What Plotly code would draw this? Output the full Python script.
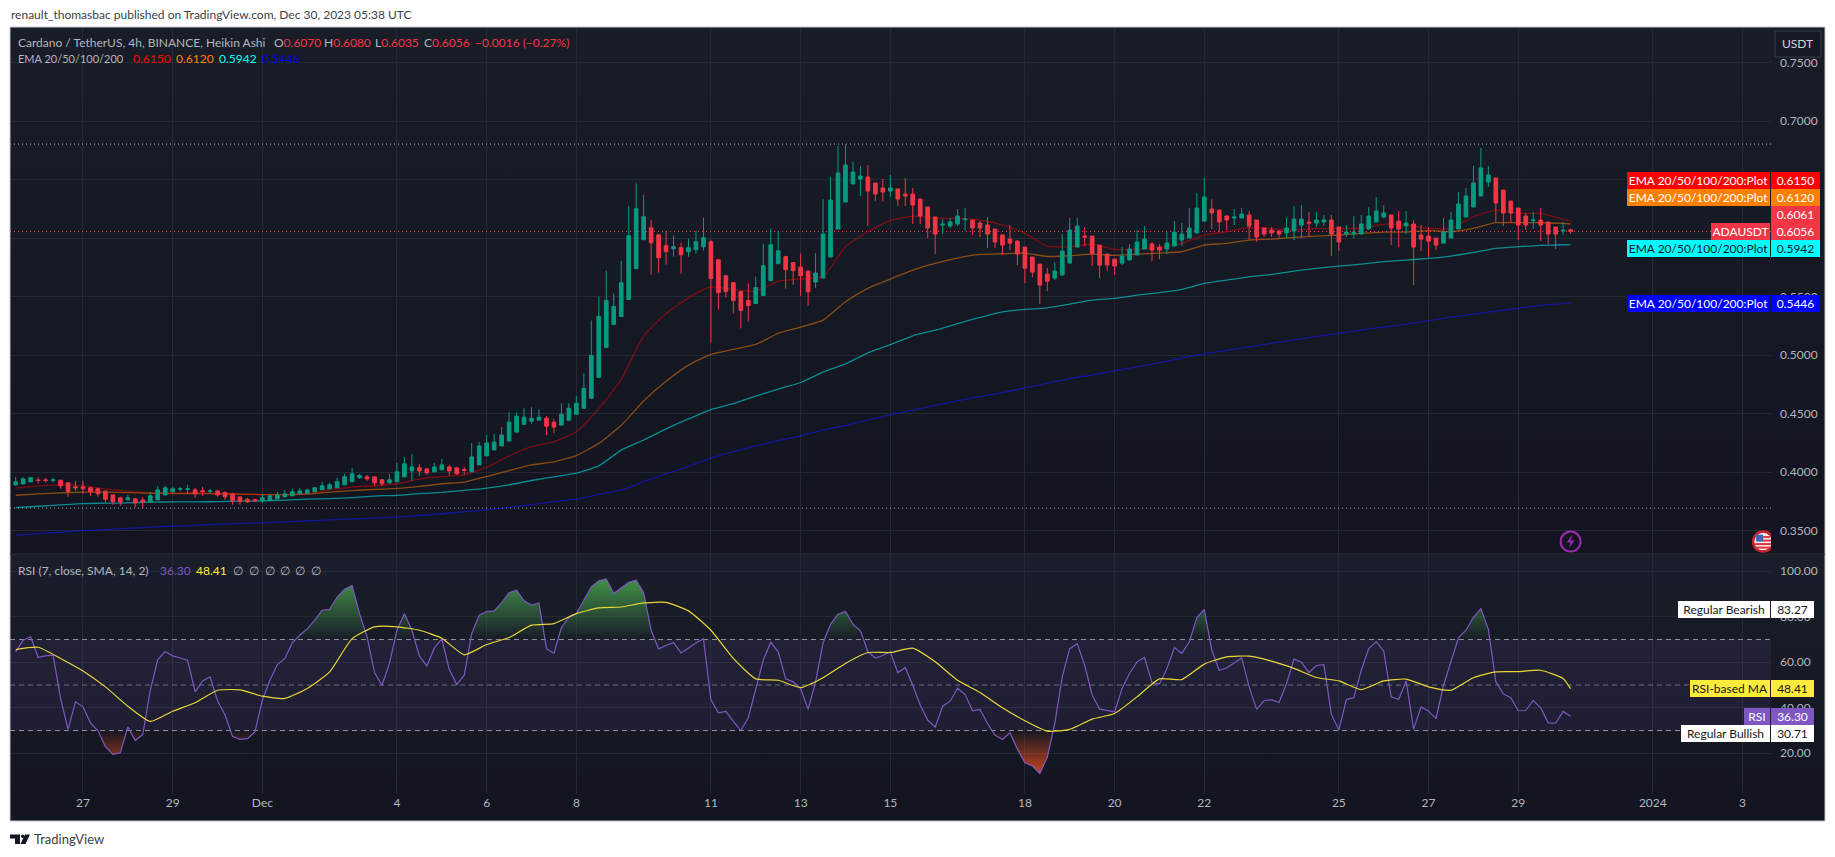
import urllib.parse

import pandas as pd
import plotly.graph_objects as go

# =========================
# Data
# =========================
bar_open = [
    .3892, .3900, .3917, .3934, .3934, .3929, .3932, .3909, .3875, .3875,
    .3866, .3858, .3838, .3806, .3781, .3763, .3772, .3763, .3746, .3763,
    .3806, .3832, .3855, .3852, .3849, .3843, .3835, .3840, .3826, .3815,
    .3789, .3769, .3766, .3755, .3763, .3772, .3789, .3798, .3815, .3820,
    .3833, .3850, .3858, .3867, .3892, .3918, .3955, .3960, .3960, .3935,
    .3909, .3918, .3960, .4011, .4037, .4028, .4003, .4020, .4045, .4037,
    .4023, .4003, .4062, .4139, .4190, .4224, .4266, .4342, .4410, .4436,
    .4444, .4461, .4427, .4402, .4444, .4495, .4546, .4631, .4810, .5066,
    .5262, .5330, .5475, .5739, .5986, .6088, .6028, .5935, .5909, .5918,
    .5884, .5901, .5926, .5969, .5815, .5679, .5619, .5543, .5466, .5441,
    .5509, .5636, .5781, .5841, .5790, .5752, .5718, .5624, .5658, .5838,
    .6077, .6308, .6462, .6504, .6522, .6470, .6428, .6402, .6419, .6376,
    .6376, .6333, .6265, .6180, .6111, .6103, .6120, .6157, .6154, .6128,
    .6111, .6077, .6026, .5991, .5974, .5923, .5838, .5778, .5692, .5658,
    .5684, .5786, .5923, .6017, .6017, .5940, .5863, .5820, .5786, .5812,
    .5855, .5906, .5949, .5923, .5906, .5932, .5983, .6000, .6043, .6145,
    .6248, .6239, .6188, .6171, .6171, .6197, .6154, .6086, .6068, .6060,
    .6043, .6060, .6111, .6137, .6128, .6137, .6154, .6094, .6034, .6034,
    .6034, .6077, .6137, .6180, .6197, .6145, .6103, .6120, .6026, .6017,
    .6000, .5957, .6000, .6077, .6180, .6265, .6359, .6479, .6513, .6410,
    .6316, .6256, .6188, .6148, .6154, .6137, .6094, .6060, .6070,
]
bar_high = [
    .3960, .3957, .3960, .3957, .3952, .3952, .3932, .3909, .3926, .3926,
    .3875, .3866, .3838, .3806, .3789, .3806, .3781, .3789, .3832, .3883,
    .3883, .3875, .3875, .3892, .3866, .3875, .3858, .3840, .3835, .3823,
    .3789, .3781, .3772, .3815, .3815, .3832, .3849, .3858, .3863, .3860,
    .3875, .3918, .3909, .3952, .3986, .4037, .3986, .3977, .3960, .3935,
    .3986, .4079, .4130, .4156, .4071, .4037, .4079, .4113, .4062, .4037,
    .4045, .4249, .4258, .4317, .4325, .4385, .4512, .4512, .4546, .4555,
    .4538, .4478, .4453, .4589, .4589, .4648, .4844, .5296, .5500, .5722,
    .5526, .5807, .6275, .6471, .6369, .6156, .6028, .6062, .6020, .5960,
    .5994, .6062, .6173, .5986, .5815, .5679, .5619, .5543, .5611, .5671,
    .5952, .6080, .6062, .5849, .5790, .5869, .5718, .5872, .6333, .6522,
    .6787, .6800, .6650, .6616, .6624, .6470, .6504, .6539, .6419, .6513,
    .6428, .6333, .6265, .6180, .6162, .6171, .6248, .6256, .6154, .6145,
    .6180, .6077, .6026, .6111, .5983, .5923, .5838, .5778, .5744, .5795,
    .6034, .6171, .6171, .6094, .6017, .5940, .5863, .5820, .5923, .5949,
    .6068, .6103, .5966, .5949, .6051, .6145, .6128, .6256, .6385, .6513,
    .6333, .6239, .6197, .6248, .6256, .6231, .6154, .6086, .6094, .6068,
    .6171, .6274, .6282, .6222, .6222, .6197, .6197, .6094, .6111, .6188,
    .6197, .6265, .6351, .6282, .6197, .6231, .6231, .6154, .6111, .6094,
    .6000, .6171, .6222, .6393, .6428, .6616, .6770, .6616, .6513, .6410,
    .6316, .6256, .6214, .6222, .6256, .6137, .6094, .6137, .6080,
]
bar_low = [
    .3883, .3900, .3917, .3903, .3912, .3912, .3858, .3789, .3840, .3815,
    .3798, .3789, .3744, .3721, .3712, .3763, .3701, .3695, .3746, .3763,
    .3806, .3832, .3838, .3815, .3781, .3798, .3815, .3789, .3763, .3721,
    .3721, .3738, .3746, .3738, .3763, .3772, .3789, .3798, .3815, .3820,
    .3833, .3850, .3858, .3867, .3892, .3918, .3943, .3926, .3884, .3884,
    .3901, .3918, .3960, .3926, .3969, .3977, .4003, .4020, .3969, .3977,
    .3977, .4003, .4062, .4139, .4190, .4224, .4266, .4342, .4402, .4410,
    .4444, .4317, .4334, .4402, .4444, .4495, .4546, .4631, .4810, .5066,
    .5262, .5330, .5475, .5739, .5986, .5688, .5705, .5773, .5841, .5696,
    .5841, .5867, .5892, .5108, .5389, .5492, .5355, .5228, .5287, .5441,
    .5509, .5636, .5781, .5568, .5602, .5507, .5421, .5573, .5658, .5838,
    .6077, .6308, .6462, .6359, .6103, .6316, .6308, .6350, .6274, .6274,
    .6120, .6120, .6000, .5863, .6034, .6086, .6103, .6060, .6026, .6009,
    .5915, .5915, .5855, .5897, .5769, .5615, .5667, .5436, .5547, .5641,
    .5684, .5786, .5923, .5932, .5761, .5658, .5718, .5684, .5769, .5812,
    .5855, .5906, .5803, .5820, .5863, .5932, .5932, .6000, .6043, .6145,
    .6077, .6051, .6068, .6111, .6171, .5983, .5966, .6009, .6009, .6000,
    .6000, .5983, .6000, .6009, .6094, .6103, .5846, .5889, .6009, .6000,
    .6034, .6077, .6137, .6171, .5940, .5923, .6034, .5598, .5889, .5838,
    .5897, .5957, .6000, .6077, .6180, .6265, .6359, .6436, .6137, .6103,
    .6137, .5983, .6068, .6077, .5974, .5949, .5906, .6026, .6035,
]
bar_close = [
    .3917, .3943, .3952, .3929, .3929, .3934, .3883, .3835, .3866, .3858,
    .3832, .3815, .3769, .3749, .3746, .3781, .3738, .3746, .3798, .3849,
    .3866, .3858, .3860, .3858, .3815, .3835, .3840, .3806, .3789, .3758,
    .3749, .3746, .3755, .3781, .3798, .3806, .3815, .3832, .3840, .3848,
    .3867, .3884, .3892, .3918, .3960, .3986, .3972, .3943, .3909, .3901,
    .3935, .4003, .4071, .4045, .4011, .3994, .4045, .4062, .4011, .3986,
    .4014, .4130, .4224, .4249, .4258, .4317, .4427, .4478, .4470, .4461,
    .4470, .4393, .4385, .4495, .4546, .4589, .4716, .4997, .5330, .5466,
    .5415, .5619, .6020, .6250, .6182, .5960, .5832, .5884, .5926, .5858,
    .5918, .5969, .6003, .5654, .5534, .5543, .5466, .5381, .5423, .5577,
    .5764, .5943, .5892, .5730, .5722, .5678, .5541, .5701, .6034, .6325,
    .6556, .6624, .6564, .6530, .6402, .6376, .6393, .6428, .6333, .6359,
    .6282, .6188, .6086, .6034, .6120, .6137, .6188, .6162, .6086, .6086,
    .6034, .5966, .5940, .5957, .5863, .5743, .5709, .5598, .5632, .5718,
    .5889, .6068, .6103, .6009, .5863, .5769, .5769, .5761, .5846, .5906,
    .5966, .5991, .5897, .5897, .5957, .6051, .6034, .6086, .6256, .6351,
    .6214, .6137, .6154, .6180, .6205, .6103, .6009, .6034, .6043, .6034,
    .6086, .6162, .6162, .6128, .6154, .6154, .6034, .5966, .6051, .6051,
    .6120, .6188, .6231, .6214, .6086, .6077, .6128, .5923, .5991, .5974,
    .5940, .6051, .6154, .6291, .6359, .6470, .6599, .6539, .6299, .6214,
    .6214, .6111, .6111, .6154, .6111, .6034, .6034, .6066, .6056,
]

# EMAs and the RSI average, one reading every 12 hours plus the last bar
ema_20 = [
    .3863, .3883, .3892, .3883, .3855, .3838, .3823, .3820, .3826, .3820,
    .3812, .3809, .3809, .3816, .3850, .3873, .3884, .3901, .3941, .3963,
    .3977, .4042, .4139, .4218, .4260, .4345, .4543, .4793, .5162, .5355,
    .5489, .5583, .5560, .5546, .5631, .5652, .5670, .5926, .6054, .6148,
    .6188, .6168, .6168, .6154, .6111, .6040, .5932, .5926, .5949, .5903,
    .5906, .5920, .5954, .6026, .6054, .6091, .6080, .6068, .6083, .6083,
    .6083, .6117, .6111, .6083, .6083, .6182, .6239, .6211, .6211, .6160,
    .6150,
]
ema_50 = [
    .3803, .3815, .3823, .3829, .3829, .3826, .3820, .3818, .3818, .3815,
    .3812, .3809, .3809, .3812, .3830, .3842, .3853, .3861, .3878, .3901,
    .3915, .3963, .4014, .4062, .4088, .4142, .4246, .4400, .4608, .4776,
    .4915, .5006, .5049, .5091, .5185, .5239, .5299, .5456, .5570, .5650,
    .5726, .5783, .5829, .5860, .5866, .5872, .5843, .5849, .5863, .5852,
    .5863, .5872, .5883, .5940, .5954, .5983, .5991, .6006, .6017, .6026,
    .6040, .6051, .6051, .6063, .6054, .6083, .6131, .6131, .6131, .6125,
    .6120,
]
ema_100 = [
    .3698, .3709, .3721, .3732, .3735, .3738, .3744, .3746, .3746, .3749,
    .3752, .3755, .3761, .3769, .3774, .3782, .3796, .3802, .3816, .3827,
    .3844, .3864, .3892, .3929, .3960, .3992, .4054, .4188, .4275, .4370,
    .4455, .4535, .4585, .4650, .4710, .4766, .4855, .4925, .5020, .5090,
    .5165, .5213, .5270, .5322, .5370, .5390, .5404, .5436, .5470, .5484,
    .5513, .5533, .5561, .5612, .5641, .5669, .5689, .5718, .5741, .5761,
    .5778, .5798, .5812, .5826, .5846, .5877, .5912, .5926, .5937, .5943,
    .5942,
]
ema_200 = [
    .3460, .3475, .3487, .3500, .3510, .3520, .3530, .3538, .3545, .3555,
    .3562, .3567, .3575, .3585, .3592, .3600, .3608, .3616, .3630, .3645,
    .3662, .3678, .3700, .3722, .3748, .3770, .3810, .3848, .3920, .3985,
    .4050, .4120, .4175, .4225, .4270, .4310, .4360, .4400, .4445, .4490,
    .4530, .4570, .4610, .4645, .4680, .4720, .4760, .4800, .4830, .4865,
    .4900, .4935, .4975, .5010, .5040, .5070, .5100, .5130, .5160, .5185,
    .5215, .5240, .5265, .5293, .5325, .5350, .5375, .5400, .5425, .5440,
    .5446,
]
rsi_ma = [
    65.6, 66.6, 61.7, 56.2, 49.2, 40.7, 34.0, 38.5, 42.2, 47.7,
    47.9, 45.1, 44.1, 48.5, 55.8, 70.4, 75.6, 75.6, 74.1, 70.6,
    63.3, 67.8, 70.9, 76.3, 77.0, 81.4, 83.9, 84.3, 86.1, 86.3,
    82.6, 74.1, 61.7, 52.7, 52.1, 48.9, 53.2, 59.5, 64.3, 64.3,
    66.2, 60.2, 52.1, 46.7, 40.0, 34.3, 29.7, 30.5, 35.0, 37.5,
    44.8, 52.7, 52.4, 59.2, 62.4, 62.7, 60.5, 57.3, 53.3, 51.8,
    48.0, 51.8, 52.6, 49.2, 47.7, 53.2, 55.8, 55.9, 56.5, 52.9,
    48.41,
]
rsi = [
    64.6, 69.7, 71.2, 62.2, 62.8, 63.1, 44.1, 30.5, 42.6, 40.4,
    33.4, 29.9, 22.9, 19.5, 20.2, 31.6, 25.6, 28.3, 47.7, 61.2,
    64.7, 62.8, 61.9, 60.9, 47.0, 51.8, 53.6, 43.1, 36.8, 27.5,
    26.1, 26.4, 29.4, 43.4, 52.1, 59.0, 61.7, 68.5, 71.9, 74.7,
    78.5, 82.9, 83.3, 88.7, 92.1, 93.7, 81.4, 71.2, 55.5, 49.9,
    59.5, 74.1, 81.4, 74.1, 62.8, 58.3, 66.3, 70.3, 56.8, 50.2,
    54.3, 72.6, 80.7, 82.3, 82.6, 86.1, 90.6, 91.7, 87.0, 85.1,
    86.1, 66.0, 63.9, 75.3, 79.7, 81.4, 87.3, 93.1, 95.8, 96.6,
    90.2, 92.8, 95.2, 96.1, 90.6, 74.1, 65.9, 67.4, 68.7, 64.1,
    66.5, 68.5, 70.4, 43.6, 37.8, 38.4, 34.0, 30.0, 35.6, 47.7,
    60.9, 68.8, 64.6, 52.7, 51.4, 48.5, 39.3, 51.4, 68.5, 76.7,
    81.1, 82.3, 76.7, 73.8, 64.6, 61.9, 63.0, 64.6, 55.4, 57.7,
    49.9, 41.2, 34.6, 31.5, 40.7, 42.9, 48.6, 45.8, 38.7, 39.3,
    33.1, 28.0, 26.1, 29.0, 21.8, 15.8, 14.4, 11.1, 18.2, 33.1,
    53.6, 66.0, 68.2, 58.7, 45.5, 39.4, 38.8, 38.2, 48.5, 55.1,
    60.2, 62.1, 51.0, 50.5, 57.3, 66.5, 63.9, 69.0, 79.7, 83.2,
    65.3, 56.4, 57.6, 59.8, 61.9, 49.2, 39.3, 43.2, 43.5, 42.3,
    50.7, 61.4, 60.0, 55.5, 58.6, 59.0, 37.2, 30.2, 43.6, 44.5,
    56.5, 66.0, 69.0, 65.0, 44.8, 43.6, 51.8, 30.6, 40.4, 38.5,
    35.2, 49.9, 60.6, 70.7, 74.1, 79.7, 83.6, 74.5, 51.4, 46.1,
    44.4, 38.7, 38.8, 43.2, 40.0, 33.4, 33.2, 38.4, 36.3,
]

price_ticks = [0.75, 0.70, 0.65, 0.60, 0.55, 0.50, 0.45, 0.40, 0.35]
rsi_ticks = [100, 80, 60, 40, 20]
time_ticks = [
    "2023-11-27", "2023-11-29", "2023-12-01", "2023-12-04", "2023-12-06", "2023-12-08",
    "2023-12-11", "2023-12-13", "2023-12-15", "2023-12-18", "2023-12-20", "2023-12-22",
    "2023-12-25", "2023-12-27", "2023-12-29", "2024-01-01", "2024-01-03",
]
time_labels = ["27", "29", "Dec", "4", "6", "8", "11", "13", "15", "18", "20", "22",
               "25", "27", "29", "2024", "3"]

LAST_PRICE = 0.6056
HIGH_PRICE = 0.6803
LOW_PRICE = 0.3693
X_RANGE = ["2023-11-25 08:57", "2024-01-03 15:14"]

GREEN = "#089981"
RED = "#f23645"
PURPLE = "#7e57c2"
YELLOW = "#ffeb3b"
GRID = "#252935"
TICK = "#b2b5be"
FONT = "Lato"

# frame of the plot area, in page pixels
L, R, T, B = 10, 1771, 27, 794
SPLIT = 554


def px(x):
    return (x - L) / (R - L)


def py(y):
    return (B - y) / (B - T)


bar_dates = pd.date_range("2023-11-25 12:00", periods=len(rsi), freq="4h")
line_dates = list(bar_dates[::3]) + [bar_dates[-1]]


def zones(level, above):
    # polygons between the RSI line and a level, closed where the line crosses it
    xs, ys, open_zone = [], [], False
    for i, v in enumerate(rsi):
        out = v > level if above else v < level
        if i and out != open_zone:
            f = (level - rsi[i - 1]) / (v - rsi[i - 1])
            cross = bar_dates[i - 1] + (bar_dates[i] - bar_dates[i - 1]) * f
            xs.append(cross.round("s"))
            ys.append(level)
            if not out:
                xs.append(None)
                ys.append(None)
        if out:
            xs.append(bar_dates[i])
            ys.append(v)
        open_zone = out
    return xs, ys


fig = go.Figure()

# EMAs sit under the candles, so they stay on the base axis
for values, color in [(ema_200, "rgba(20,20,255,0.55)"), (ema_100, "rgba(0,255,255,0.5)"),
                      (ema_50, "rgba(255,128,0,0.5)"), (ema_20, "rgba(255,0,0,0.45)")]:
    fig.add_trace(go.Scatter(x=line_dates, y=values, mode="lines", line_shape="spline",
                             line=dict(color=color, width=1.3, smoothing=0.5), xaxis="x", yaxis="y"))

fig.add_trace(go.Candlestick(
    x=bar_dates, open=bar_open, high=bar_high, low=bar_low, close=bar_close,
    increasing=dict(line=dict(color=GREEN, width=1), fillcolor=GREEN),
    decreasing=dict(line=dict(color=RED, width=1), fillcolor=RED),
    whiskerwidth=0, xaxis="x", yaxis="y3",
))

up_x, up_y = zones(70, True)
fig.add_trace(go.Scatter(
    x=up_x, y=up_y, mode="lines", line=dict(width=0), fill="toself", xaxis="x", yaxis="y2",
    fillgradient=dict(type="vertical", start=70, stop=100,
                      colorscale=[[0, "rgba(76,175,80,0)"], [1, "rgba(76,175,80,0.9)"]]),
))
down_x, down_y = zones(30, False)
fig.add_trace(go.Scatter(
    x=down_x, y=down_y, mode="lines", line=dict(width=0), fill="toself", xaxis="x", yaxis="y2",
    fillgradient=dict(type="vertical", start=30, stop=10,
                      colorscale=[[0, "rgba(255,82,30,0)"], [1, "rgba(255,82,30,0.8)"]]),
))
fig.add_trace(go.Scatter(x=bar_dates, y=rsi, mode="lines",
                         line=dict(color=PURPLE, width=1.2), xaxis="x", yaxis="y2"))
fig.add_trace(go.Scatter(x=line_dates, y=rsi_ma, mode="lines", line_shape="spline",
                         line=dict(color="#e8d637", width=1.2, smoothing=0.5), xaxis="x", yaxis="y2"))

# pane background, lighter at the top of each pane
svg = (
    "<svg xmlns='http://www.w3.org/2000/svg' width='1815' height='794' preserveAspectRatio='none'>"
    "<defs>"
    "<linearGradient id='a' x1='0' y1='0' x2='0' y2='1'>"
    "<stop offset='0' stop-color='rgb(25,29,40)'/><stop offset='1' stop-color='rgb(18,21,32)'/>"
    "</linearGradient>"
    "<linearGradient id='b' x1='0' y1='0' x2='0' y2='1'>"
    "<stop offset='0' stop-color='rgb(26,30,42)'/><stop offset='1' stop-color='rgb(18,21,31)'/>"
    "</linearGradient></defs>"
    "<rect width='1815' height='527' fill='url(#a)'/>"
    "<rect y='527' width='1815' height='267' fill='url(#b)'/></svg>"
)
fig.add_layout_image(
    source="data:image/svg+xml;charset=utf-8," + urllib.parse.quote(svg),
    xref="paper", yref="paper", x=0, y=1, xanchor="left", yanchor="top",
    sizex=px(1825), sizey=(821 - T) / (B - T), sizing="stretch", layer="below",
)


def level_line(y, yref, color, dash):
    fig.add_shape(type="line", xref="x", yref=yref, x0=X_RANGE[0], x1=X_RANGE[1], y0=y, y1=y,
                  line=dict(color=color, width=1, dash=dash), layer="between")


fig.add_shape(type="rect", xref="x", yref="y2", x0=X_RANGE[0], x1=X_RANGE[1], y0=30, y1=70,
              fillcolor="rgba(126,87,194,0.1)", line_width=0, layer="between")
level_line(70, "y2", "#8f929c", "5px,4px")
level_line(50, "y2", "#6c6f7b", "5px,4px")
level_line(30, "y2", "#8f929c", "5px,4px")
level_line(HIGH_PRICE, "y", "#a9acb5", "1px,3px")
level_line(LOW_PRICE, "y", "#a9acb5", "1px,3px")
level_line(LAST_PRICE, "y", RED, "1px,3px")

# frame and pane divider
fig.add_shape(type="rect", xref="paper", yref="paper", x0=px(10), x1=px(1825), y0=py(27), y1=py(821),
              line=dict(color="#c4c6cc", width=1), layer="above")
fig.add_shape(type="line", xref="paper", yref="paper", x0=px(10), x1=px(1825), y0=py(SPLIT), y1=py(SPLIT),
              line=dict(color="#2a2e39", width=1), layer="above")

# TradingView logo
logo = "M 10 834.5 L 20 834.5 L 20 844 L 15 844 L 15 838.5 L 10 838.5 Z M 25 834.5 L 30 834.5 L 25.5 844 L 20.5 844 Z"
parts = logo.split()
path = ""
for i in range(0, len(parts)):
    if parts[i] in ("M", "L", "Z"):
        path += parts[i] + " "
        if parts[i] != "Z":
            path += f"{px(float(parts[i + 1])):.5f} {py(float(parts[i + 2])):.5f} "
fig.add_shape(type="path", xref="paper", yref="paper", path=path, fillcolor="#131722", line_width=0)
fig.add_shape(type="circle", xref="paper", yref="paper", x0=px(21), x1=px(24.4), y0=py(834.5), y1=py(838),
              fillcolor="#131722", line_width=0)

# event markers near the bottom of the price pane
fig.add_shape(type="circle", xref="x", yref="y", xsizemode="pixel", ysizemode="pixel",
              xanchor="2023-12-30 04:00", yanchor=0.3407, x0=-10, x1=10, y0=-10, y1=10,
              line=dict(color="#9c27b0", width=2), layer="above")
fig.add_shape(type="path", xref="x", yref="y", xsizemode="pixel", ysizemode="pixel",
              xanchor="2023-12-30 04:00", yanchor=0.3407,
              path="M 2 7 L -4 -1 L 0 -1 L -2 -7 L 4 1 L 0 1 Z",
              fillcolor="#9c27b0", line_width=0, layer="above")
flag_day = "2024-01-03 11:00"
fig.add_shape(type="circle", xref="x", yref="y", xsizemode="pixel", ysizemode="pixel",
              xanchor=flag_day, yanchor=0.3407, x0=-10, x1=10, y0=-10, y1=10,
              fillcolor="#f0f0f0", line=dict(color="#c8242b", width=2.5), layer="above")
for x0, x1, y0 in [(-7, 7, -7), (-8, 8, -3.5), (0, 8, 0), (0, 7, 3.5)]:
    fig.add_shape(type="rect", xref="x", yref="y", xsizemode="pixel", ysizemode="pixel",
                  xanchor=flag_day, yanchor=0.3407, x0=x0, x1=x1, y0=y0, y1=y0 + 2,
                  fillcolor="#e0343a", line_width=0, layer="above")
fig.add_shape(type="rect", xref="x", yref="y", xsizemode="pixel", ysizemode="pixel",
              xanchor=flag_day, yanchor=0.3407, x0=-7, x1=0, y0=0, y1=7,
              fillcolor="#3f63b8", line_width=0, layer="above")


def label(x, y, text, color=TICK, size=12):
    # annotations pad their box, so pull the text back onto the read position
    fig.add_annotation(text=text, x=px(x - 2), y=py(y), xref="paper", yref="paper", xanchor="left",
                       yanchor="middle", showarrow=False, font=dict(family=FONT, size=size, color=color))


def tag(x0, x1, y0, y1, text, bg, fg):
    fig.add_annotation(text=text, x=px(x0), y=py(y0), xref="paper", yref="paper", xanchor="left",
                       yanchor="top", width=x1 - x0, height=y1 - y0, showarrow=False, bgcolor=bg,
                       borderpad=0, borderwidth=0, align="center", valign="middle",
                       font=dict(family=FONT, size=12, color=fg))


label(11, 15, "renault_thomasbac published on TradingView.com, Dec 30, 2023 05:38 UTC", "#3c3f49", 12)
label(34, 839, "TradingView", "#3c3f49", 13)

label(18, 42, "Cardano / TetherUS, 4h, BINANCE, Heikin Ashi")
for x, head, val in [(273.6, "O", "0.6070"), (324, "H", "0.6080"), (375, "L", "0.6035"), (424, "C", "0.6056")]:
    label(x, 42, f"{head}<span style='color:{RED}'>{val}</span>")
label(475, 42, "−0.0016 (−0.27%)", RED)
label(18, 58.5, "EMA 20/50/100/200", size=11)
for x, val, color in [(132.5, "0.6150", "#ff0000"), (175.6, "0.6120", "#ff8000"),
                      (219, "0.5942", "#00ffff"), (262, "0.5446", "#0000ff")]:
    label(x, 58.5, val, color)
label(18, 570, "RSI (7, close, SMA, 14, 2)")
label(160, 570, "36.30", PURPLE)
label(196, 570, "48.41", YELLOW)
for x in [233, 249, 265, 280, 295, 311]:
    label(x, 570, "∅")

# price tags on the right
for y0, val, bg, fg in [(172, "0.6150", "#ff0000", "#ffffff"), (189, "0.6120", "#ff8000", "#ffffff"),
                        (240, "0.5942", "#00ffff", "#131722"), (295, "0.5446", "#0000ff", "#ffffff")]:
    tag(1627, 1770, y0, y0 + 17, "EMA 20/50/100/200:Plot", bg, fg)
    tag(1771, 1820, y0, y0 + 17, val, bg, fg)
tag(1771, 1820, 206, 223, "0.6061", RED, "#ffffff")
tag(1771, 1820, 223, 240, "0.6056", RED, "#ffffff")
tag(1711, 1770, 223, 240, "ADAUSDT", RED, "#ffffff")
tag(1678, 1770, 601, 618, "Regular Bearish", "#ffffff", "#131722")
tag(1771, 1814, 601, 618, "83.27", "#ffffff", "#131722")
tag(1690, 1770, 680, 697, "RSI-based MA", YELLOW, "#131722")
tag(1771, 1814, 680, 697, "48.41", YELLOW, "#131722")
tag(1744, 1770, 708, 725, "RSI", PURPLE, "#ffffff")
tag(1771, 1814, 708, 725, "36.30", PURPLE, "#ffffff")
tag(1681, 1770, 725, 742, "Regular Bullish", "#ffffff", "#131722")
tag(1771, 1814, 725, 742, "30.71", "#ffffff", "#131722")

# currency button
fig.add_shape(type="rect", xref="paper", yref="paper", x0=px(1775), x1=px(1821), y0=py(31), y1=py(57),
              fillcolor="#161a25", line=dict(color="#363a45", width=1), layer="above")
fig.add_annotation(text="USDT", x=px(1798), y=py(44), xref="paper", yref="paper", xanchor="center",
                   yanchor="middle", showarrow=False, font=dict(family=FONT, size=12, color="#d1d4dc"))

axis_common = dict(showline=False, zeroline=False, gridcolor=GRID, gridwidth=1, ticks="", side="right",
                   tickfont=dict(family=FONT, size=12, color=TICK), ticklabelstandoff=8, anchor="x")
fig.update_layout(
    width=1835, height=857, showlegend=False, hovermode=False,
    paper_bgcolor="#ffffff", plot_bgcolor="rgba(0,0,0,0)",
    margin=dict(l=L, r=1835 - R, t=T, b=857 - B, pad=0),
    font=dict(family=FONT),
    xaxis=dict(
        type="date", range=X_RANGE, anchor="y2",
        tickmode="array", tickvals=time_ticks, ticktext=time_labels, tickangle=0,
        showgrid=True, gridcolor=GRID, showline=False, zeroline=False, ticks="",
        tickfont=dict(family=FONT, size=12, color=TICK), rangeslider=dict(visible=False),
    ),
    yaxis=dict(domain=[py(SPLIT), 1], range=[0.3301, 0.7803], tickmode="array", tickvals=price_ticks,
               tickformat=".4f", **axis_common),
    yaxis2=dict(domain=[0, py(SPLIT)], range=[2.1, 107.6], tickmode="array", tickvals=rsi_ticks,
                tickformat=".2f", **axis_common),
    yaxis3=dict(overlaying="y", range=[0.3301, 0.7803], visible=False, anchor="x", side="right"),
)

fig.write_html("out.html", config={"displayModeBar": False},
               post_script="document.body.style.margin='0';")
